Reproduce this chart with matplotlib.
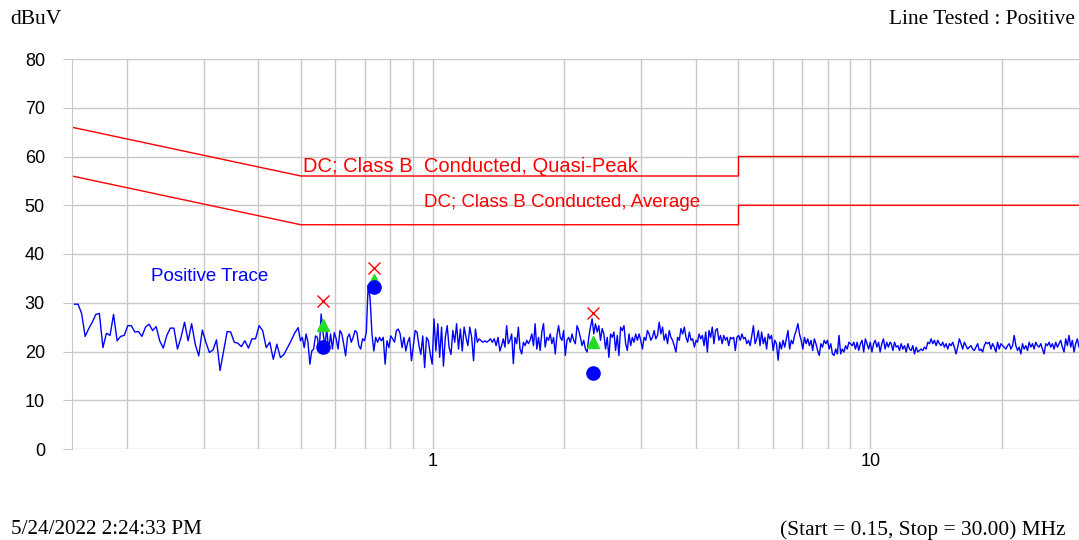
import numpy as np
import matplotlib
matplotlib.use("Agg")
import matplotlib.pyplot as plt
from matplotlib.ticker import NullFormatter

# limit lines (MHz, dBuV)
qp_freq = [0.15, 0.5, 5, 5, 30]
qp_level = [66, 56, 56, 60, 60]
avg_freq = [0.15, 0.5, 5, 5, 30]
avg_level = [56, 46, 46, 50, 50]

# sweep segments (start, stop MHz) and the trace
seg_bounds = [(0.152, 0.493), (0.499, 1.425), (1.438, 4.0), (4.03, 11.1), (11.17, 30.0)]

trace_1 = [29.7, 29.7, 27.8, 23.1, 24.7, 26.0, 27.6, 27.8, 20.8, 23.75, 23.3, 27.6, 22.2, 23.1, 23.3,
           25.3, 25.3, 24.0, 24.1, 23.1, 25.0, 25.6, 24.3, 25.1, 22.2, 20.7, 23.3, 24.8, 24.8, 20.5,
           22.9, 26.0, 22.2, 25.7, 21.5, 19.1, 24.4, 21.9, 19.8, 20.3, 22.4, 16.1, 20.1, 24.1, 24.0,
           21.9, 21.7, 21.0, 22.2, 20.7, 22.6, 22.6, 25.3, 24.3, 20.8, 21.9, 18.4, 21.5, 18.75, 19.4,
           20.8, 22.2, 23.75, 24.9]
trace_2 = [22.2, 22.9, 20.8, 23.6, 21.9, 17.4, 20.1, 20.5, 23.2, 22.9, 20.1, 27.7, 23.9, 21.2, 24.6,
           20.1, 23.6, 20.5, 23.9, 22.6, 20.5, 24.3, 23.6, 21.5, 19.1, 22.9, 23.6, 21.9, 22.9, 24.3,
           23.9, 21.2, 20.5, 22.6, 22.2, 23.9, 33.6, 31.0, 23.6, 20.1, 22.9, 21.9, 22.9, 22.2, 22.9,
           17.4, 22.2, 20.8, 23.2, 22.6, 21.9, 24.3, 24.6, 23.6, 20.8, 22.9, 20.1, 21.9, 22.9, 18.1,
           21.2, 24.3, 23.9, 21.2, 19.4, 23.2, 16.7, 22.9, 22.2, 19.4, 17.4, 26.7, 20.1, 25.7, 18.8,
           25.0, 17.0, 22.9, 25.3, 20.8, 19.4, 24.3, 21.9, 25.7, 20.5, 24.6, 20.1, 25.0, 22.9, 21.2,
           25.0, 22.9, 18.1, 24.6, 21.9, 22.6, 22.2, 21.9, 22.2, 21.9, 22.2, 22.6, 21.9, 22.6, 21.2,
           22.9, 20.1]
trace_3 = [21.2, 22.6, 20.9, 25.3, 21.6, 22.3, 23.6, 17.5, 22.9, 21.6, 25.0, 20.5, 19.5, 21.9, 21.2,
           22.3, 21.6, 22.3, 23.6, 21.2, 25.7, 20.5, 22.9, 20.2, 24.0, 25.7, 20.9, 22.9, 22.3, 23.6,
           21.6, 22.9, 19.5, 23.3, 25.3, 22.9, 22.3, 24.3, 19.2, 22.3, 22.9, 21.9, 23.6, 22.3, 21.6,
           25.3, 24.3, 22.9, 21.2, 22.3, 20.5, 19.9, 22.9, 25.0, 26.7, 23.6, 25.7, 24.0, 25.3, 22.3,
           24.7, 23.6, 20.5, 22.9, 18.8, 23.6, 22.9, 24.0, 20.2, 23.3, 19.2, 25.0, 24.3, 25.3, 21.6,
           20.2, 23.6, 21.2, 22.9, 21.9, 23.6, 22.3, 23.6, 22.3, 20.5, 22.9, 22.3, 24.3, 23.6, 22.3,
           22.9, 24.3, 22.6, 23.3, 26.0, 23.6, 25.0, 22.3, 23.6, 21.6, 24.3, 22.9, 22.3, 21.2, 19.9,
           22.9, 22.3, 24.7, 23.6, 25.0, 22.9, 21.9, 24.0, 22.3, 22.6, 20.9, 22.3]
trace_4 = [21.9, 23.6, 22.6, 23.3, 21.2, 24.0, 19.9, 24.3, 22.9, 25.0, 21.6, 24.3, 24.7, 22.3, 23.3,
           21.6, 23.3, 22.3, 22.9, 21.2, 22.9, 22.6, 22.9, 20.2, 22.9, 23.3, 22.3, 23.6, 22.6, 22.9,
           21.6, 22.3, 21.2, 23.3, 25.3, 21.6, 22.6, 24.3, 21.2, 24.0, 21.6, 22.9, 20.5, 23.6, 22.6,
           23.3, 20.2, 22.3, 21.6, 18.2, 21.9, 20.5, 22.3, 20.9, 22.6, 24.3, 20.5, 22.3, 21.6, 23.3,
           24.3, 25.7, 23.6, 22.3, 20.5, 22.9, 21.6, 22.6, 21.2, 22.3, 20.2, 22.6, 21.6, 20.2, 19.2,
           21.6, 20.9, 22.3, 21.6, 22.3, 20.5, 21.6, 19.5, 19.2, 20.5, 19.5, 23.3, 19.5, 20.5, 19.9,
           21.2, 20.5, 21.9, 21.6, 21.2, 21.9, 20.5, 21.9, 20.2, 21.6, 22.3, 19.9, 22.6, 21.6, 20.5,
           21.9, 19.9, 21.6, 22.3, 20.9, 21.9, 19.9, 21.6, 22.6, 20.5, 21.9, 20.9, 21.9]
trace_5 = [21.6, 20.2, 21.9, 20.9, 21.2, 20.2, 21.6, 20.5, 21.2, 19.9, 21.6, 20.5, 20.2, 21.2, 19.5,
           20.9, 19.9, 20.2, 20.5, 20.2, 20.9, 20.5, 21.9, 21.6, 22.6, 21.6, 22.3, 21.2, 22.3, 21.6,
           21.2, 21.9, 20.9, 21.6, 20.5, 21.6, 21.2, 21.9, 20.9, 19.5, 20.9, 22.6, 21.6, 20.5, 21.9,
           21.2, 20.5, 20.9, 21.2, 20.5, 20.2, 20.9, 21.6, 20.2, 20.5, 19.9, 21.2, 21.9, 21.6, 21.9,
           20.5, 21.6, 20.9, 19.9, 21.9, 20.5, 21.6, 21.2, 20.9, 20.5, 21.2, 21.6, 20.5, 21.2, 23.3,
           21.2, 20.2, 20.9, 19.5, 21.6, 20.5, 21.2, 20.2, 21.9, 20.9, 21.6, 20.5, 21.9, 21.2, 20.9,
           21.6, 20.5, 19.5, 21.6, 21.2, 21.9, 20.9, 21.6, 20.5, 21.9, 20.9, 21.6, 22.3, 20.9, 19.9,
           22.6, 21.2, 23.3, 20.9, 22.3, 19.9, 21.6, 22.6, 20.9]
traces = [trace_1, trace_2, trace_3, trace_4, trace_5]

# markers
mark_freq = [0.563, 0.733, 2.33]
peak_level = [30.4, 37.2, 28.0]
qp_read = [25.4, 34.6, 22.0]
avg_read = [20.9, 33.3, 15.5]

freq = np.concatenate([np.geomspace(a, b, len(t)) for (a, b), t in zip(seg_bounds, traces)])
level = np.concatenate(traces)

W, H = 1079, 540
fig = plt.figure(figsize=(W / 100, H / 100), dpi=100)
ax = fig.add_axes([72 / W, 91 / H, 1007 / W, 390 / H])
ax.set_xscale("log")
ax.set_xlim(0.15, 30)
ax.set_ylim(0, 80)

grid_c = "#c8c8c8"
ax.set_xticks([1, 10])
ax.set_xticklabels(["1", "10"])
ax.set_xticks([0.2, 0.3, 0.4, 0.5, 0.6, 0.7, 0.8, 0.9, 2, 3, 4, 5, 6, 7, 8, 9, 20], minor=True)
ax.xaxis.set_minor_formatter(NullFormatter())
ax.set_yticks(range(0, 81, 10))
ax.grid(True, which="both", color=grid_c, lw=1)
ax.set_axisbelow(True)
for s in ax.spines.values():
    s.set_color(grid_c)
ax.spines["bottom"].set_visible(False)
ax.spines["top"].set_visible(False)

ax.tick_params(axis="x", which="both", length=0, pad=3, labelsize=13)
ax.tick_params(axis="y", length=6.5, color=grid_c, pad=13, labelsize=13)
for lab in ax.get_xticklabels() + ax.get_yticklabels():
    lab.set_fontfamily("Liberation Sans")

ax.plot(qp_freq, qp_level, color="red", lw=1)
ax.plot(avg_freq, avg_level, color="red", lw=1)
ax.plot(freq, level, color="blue", lw=1)

ax.plot(mark_freq, peak_level, "x", color="red", ms=9, mew=1)
ax.plot(mark_freq, qp_read, "^", color="#22dd22", ms=9)
ax.plot(mark_freq, avg_read, "o", color="blue", ms=9.5)

ax.text(0.505, 58.0, "DC; Class B  Conducted, Quasi-Peak", color="red", fontsize=14.5,
        family="Liberation Sans", va="center")
ax.text(0.955, 50.5, "DC; Class B Conducted, Average", color="red", fontsize=13.5,
        family="Liberation Sans", va="center")
ax.text(0.227, 35.3, "Positive Trace", color="blue", fontsize=13.5,
        family="Liberation Sans", va="center")

fig.text(10 / W, 1 - 20 / H, "dBuV", family="Liberation Serif", fontsize=15.5, va="center")
fig.text(1075 / W, 1 - 20 / H, "Line Tested : Positive", family="Liberation Serif", fontsize=15.4,
         va="center", ha="right")
fig.text(11 / W, 1 - 530 / H, "5/24/2022 2:24:33 PM", family="Liberation Serif", fontsize=15.2,
         va="center")
fig.text(1066 / W, 1 - 530 / H, "(Start = 0.15, Stop = 30.00) MHz", family="Liberation Serif",
         fontsize=15.4, va="center", ha="right")

fig.savefig("out.png", dpi=100)
